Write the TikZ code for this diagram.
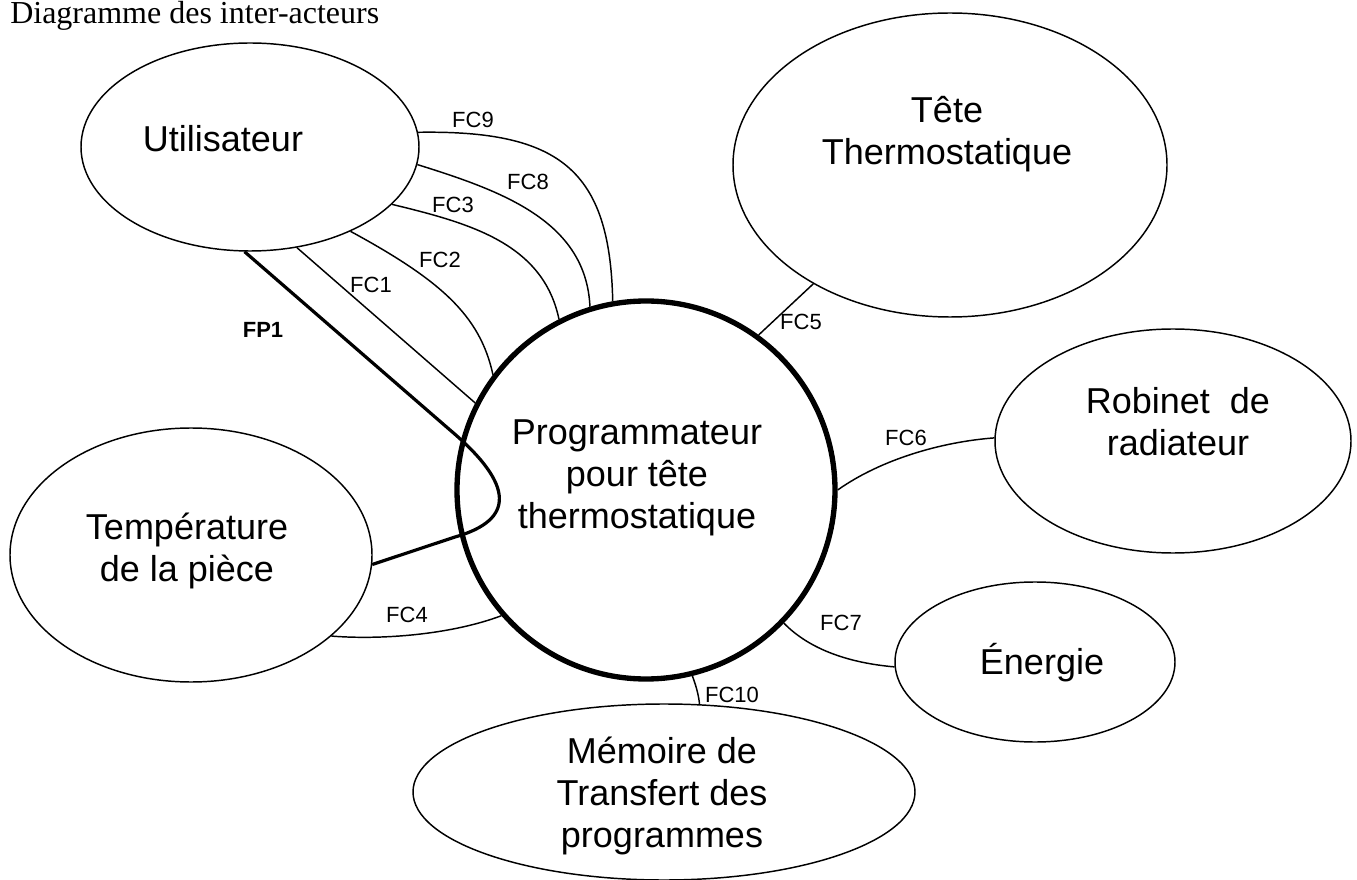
\documentclass[tikz,border=0pt]{standalone}
\usepackage{fontspec}
\setmainfont{Liberation Sans}
\newfontfamily\titlefont{Liberation Serif}
\usetikzlibrary{shapes.geometric}
\newcommand\pxu{0.75pt}
\tikzset{
  actor/.style={draw, ellipse, line width=1.1pt, inner sep=0pt},
  mainbox/.style={draw, circle, line width=4pt, inner sep=0pt, minimum size=378*\pxu},
  bigtext/.style={font=\fontsize{27}{31.5}\selectfont, align=center, inner sep=0pt},
  fclabel/.style={font=\fontsize{16.5}{18}\selectfont, inner sep=0pt},
  fplabel/.style={font=\fontsize{16.5}{18}\selectfont\bfseries, inner sep=0pt},
  fcline/.style={line width=1.1pt},
  fpline/.style={line width=2.4pt},
}
\begin{document}
\begin{tikzpicture}[x=0.75pt, y=-0.75pt]
\useasboundingbox (0,0) rectangle (1357,880);
\node[anchor=base west, font=\titlefont\fontsize{24}{28}\selectfont, inner sep=0pt] (title) at (10,24) {Diagramme des inter-acteurs};

% actors
\node[actor, minimum width=338*\pxu, minimum height=208*\pxu] (U) at (250,147) {};
\node[bigtext] (Ut) at (223,139) {Utilisateur};

\node[actor, minimum width=434*\pxu, minimum height=304*\pxu] (T) at (950,165) {};
\node[bigtext] (Tt) at (947,134) {Tête\\Thermostatique};

\node[actor, minimum width=356*\pxu, minimum height=224*\pxu] (R) at (1173,441) {};
\node[bigtext] (Rt) at (1178,422) {Robinet\ \ de\\radiateur};

\node[actor, minimum width=280*\pxu, minimum height=160*\pxu] (E) at (1035,662) {};
\node[bigtext] (Et) at (1042,663) {Énergie};

\node[actor, minimum width=502*\pxu, minimum height=176*\pxu] (M) at (664,792) {};
\node[bigtext] (Mt) at (662,796) {Mémoire de\\Transfert des\\programmes};

\node[actor, minimum width=362*\pxu, minimum height=254*\pxu] (Tp) at (191,555) {};
\node[bigtext] (Tpt) at (187,551) {Température\\de la pièce};

\node[mainbox] (P) at (646,490) {};
\node[bigtext] (Pt) at (637,478) {Programmateur\\pour tête\\thermostatique};

% connectors
\coordinate (fpa) at (450,430);
\coordinate (fpb) at (455,537);
\draw[fpline] (U.-93.8) -- (fpa) .. controls (515,485) and (515,520) .. (fpb) -- (Tp.-3.2);
\draw[fcline] (U.-65.2) -- (P.153.3);
\draw[fcline] (U.-40.1) .. controls (440,280) and (480,315) .. (P.143.8);
\draw[fcline] (U.-22.4) .. controls (469,223) and (543,243) .. (P.117.4);
\draw[fcline] (U.-6.8) .. controls (502,191) and (586,221) .. (P.107.1);
\draw[fcline] (U.5.7) .. controls (560,130) and (610,170) .. (P.100.3);
\draw[fcline] (P.54.4) -- (T.-139.7);
\draw[fcline] (P.0.6) .. controls (880,460) and (940,442) .. (R.179);
\draw[fcline] (P.-44.8) .. controls (810,650) and (850,663) .. (E.182);
\draw[fcline] (P.-76.2) .. controls (697,688) and (699,698) .. (M.68.9);
\draw[fcline] (Tp.-30.6) .. controls (380,640) and (450,635) .. (P.-139.4);

% labels
\node[fplabel] (lFP1) at (263,330) {FP1};
\node[fclabel] (lFC1) at (371,285) {FC1};
\node[fclabel] (lFC2) at (440,260) {FC2};
\node[fclabel] (lFC3) at (453,205) {FC3};
\node[fclabel] (lFC8) at (528,182) {FC8};
\node[fclabel] (lFC9) at (473,120) {FC9};
\node[fclabel] (lFC5) at (801,322) {FC5};
\node[fclabel] (lFC6) at (906,438) {FC6};
\node[fclabel] (lFC7) at (841,623) {FC7};
\node[fclabel] (lFC10) at (732,695) {FC10};
\node[fclabel] (lFC4) at (407,615) {FC4};
\end{tikzpicture}
\end{document}
